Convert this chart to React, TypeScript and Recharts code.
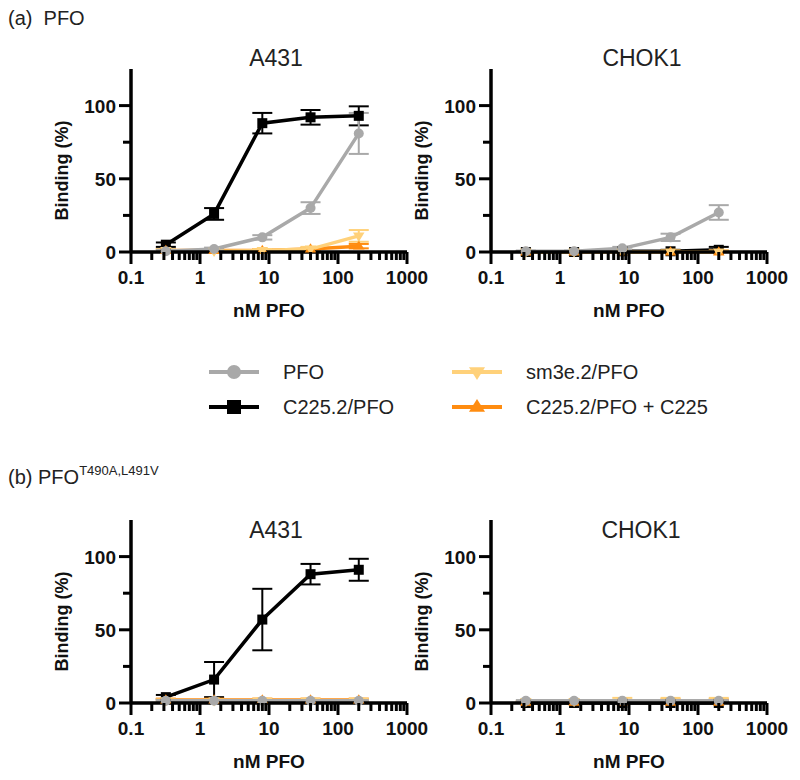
import React from 'react';
import { ComposedChart, Line, XAxis, YAxis, ErrorBar } from 'recharts';

// doses (nM PFO), 5-fold dilutions
const DOSES = [0.32, 1.6, 8, 40, 200];

const X_TICKS = [
  0.1, 0.2, 0.3, 0.4, 0.5, 0.6, 0.7, 0.8, 0.9,
  1, 2, 3, 4, 5, 6, 7, 8, 9,
  10, 20, 30, 40, 50, 60, 70, 80, 90,
  100, 200, 300, 400, 500, 600, 700, 800, 900,
  1000,
];
const X_MAJOR = [0.1, 1, 10, 100, 1000];
const Y_TICKS = [0, 25, 50, 75, 100];
const Y_MAJOR = [0, 50, 100];

// (a) PFO - A431
const A_A431_PFO = [0.5, 2, 10, 30, 81];
const A_A431_PFO_ERR = [1, 1, 1.5, 4, 14];
const A_A431_C225 = [5, 26, 88, 92, 93];
const A_A431_C225_ERR = [1.5, 4, 7, 5, 6.5];
const A_A431_SM3E = [1, 0.5, 1, 2, 11];
const A_A431_SM3E_ERR = [1, 1, 1, 1.5, 4];
const A_A431_BLOCK = [1, 1, 1, 2, 4];
const A_A431_BLOCK_ERR = [1, 1, 1, 1, 1.5];

// (a) PFO - CHOK1
const A_CHO_PFO = [0.5, 0.5, 2.5, 10, 27];
const A_CHO_PFO_ERR = [0.5, 0.5, 1, 2.5, 5];
const A_CHO_C225 = [0, 0, 0.5, 0.5, 1.5];
const A_CHO_C225_ERR = [0.5, 0.5, 1, 1, 2];
const A_CHO_SM3E = [0, 0, 0, 0, 0];
const A_CHO_SM3E_ERR = [0.5, 0.5, 1, 1, 1];
const A_CHO_BLOCK = [0, 0, 0, 0, 0];
const A_CHO_BLOCK_ERR = [0.5, 0.5, 1, 1, 1];

// (b) PFO T490A,L491V - A431
const B_A431_PFO = [1.5, 1.5, 1.5, 1.5, 1.5];
const B_A431_PFO_ERR = [0.5, 0.5, 0.5, 0.5, 0.5];
const B_A431_C225 = [4, 16, 57, 88, 91];
const B_A431_C225_ERR = [1.5, 12, 21, 7, 7.5];
const B_A431_SM3E = [1.5, 1.5, 1.5, 1.5, 1.5];
const B_A431_SM3E_ERR = [1, 1, 1.5, 1.5, 1.5];
const B_A431_BLOCK = [2, 2, 2, 2, 2];
const B_A431_BLOCK_ERR = [1, 1, 1, 1, 1];

// (b) PFO T490A,L491V - CHOK1
const B_CHO_PFO = [1.5, 1.5, 1.5, 1.5, 1.5];
const B_CHO_PFO_ERR = [0.5, 0.5, 0.5, 0.5, 0.5];
const B_CHO_C225 = [0, 0, 0, 0, 0];
const B_CHO_C225_ERR = [0.5, 0.5, 0.5, 1, 1];
const B_CHO_SM3E = [1, 1, 1, 1, 1];
const B_CHO_SM3E_ERR = [0.5, 0.5, 2.5, 2.5, 2.5];
const B_CHO_BLOCK = [0.5, 0.5, 0.5, 0.5, 0.5];
const B_CHO_BLOCK_ERR = [0.5, 0.5, 1, 2, 2];

const FONT = 'Arial, "Liberation Sans", Helvetica, sans-serif';
const GRAY = '#a9a9a9';
const BLACK = '#000000';
const YELLOW = '#ffd17a';
const ORANGE = '#ff8c10';

type Shape = 'circle' | 'square' | 'down' | 'up';

const SERIES: { key: string; name: string; color: string; shape: Shape }[] = [
  { key: 'c225', name: 'C225.2/PFO', color: BLACK, shape: 'square' },
  { key: 'block', name: 'C225.2/PFO + C225', color: ORANGE, shape: 'up' },
  { key: 'sm3e', name: 'sm3e.2/PFO', color: YELLOW, shape: 'down' },
  { key: 'pfo', name: 'PFO', color: GRAY, shape: 'circle' },
];

const Marker = ({ shape, cx, cy, color, s }: { shape: Shape; cx: number; cy: number; color: string; s: number }) => {
  if (shape === 'circle') return <circle cx={cx} cy={cy} r={s} fill={color} />;
  if (shape === 'square') return <rect x={cx - s} y={cy - s} width={2 * s} height={2 * s} fill={color} />;
  const h = s * 1.15;
  if (shape === 'down')
    return <path d={`M${cx - h},${cy - h * 0.6} L${cx + h},${cy - h * 0.6} L${cx},${cy + h} Z`} fill={color} />;
  return <path d={`M${cx - h},${cy + h * 0.6} L${cx + h},${cy + h * 0.6} L${cx},${cy - h} Z`} fill={color} />;
};

const makeDot = (shape: Shape, color: string) => (props: any) => {
  const { cx, cy, index } = props;
  if (cx == null || cy == null) return <g key={`e${index}`} />;
  return <Marker key={`d${index}`} shape={shape} cx={cx} cy={cy} color={color} s={5} />;
};

const XTick = (props: any) => {
  const { x, y, payload } = props;
  const major = X_MAJOR.includes(payload.value);
  return (
    <g>
      <line x1={x} x2={x} y1={y} y2={y + (major ? 12 : 8)} stroke="#000" strokeWidth={3} />
      {major && (
        <text x={x} y={y + 32} textAnchor="middle" fontFamily={FONT} fontSize={19} fontWeight={700} fill="#111">
          {String(payload.value)}
        </text>
      )}
    </g>
  );
};

const YTick = (props: any) => {
  const { x, y, payload } = props;
  const major = Y_MAJOR.includes(payload.value);
  return (
    <g>
      <line x1={x - (major ? 12 : 8)} x2={x} y1={y} y2={y} stroke="#000" strokeWidth={3} />
      {major && (
        <text x={x - 15} y={y + 7} textAnchor="end" fontFamily={FONT} fontSize={19} fontWeight={700} fill="#111">
          {String(payload.value)}
        </text>
      )}
    </g>
  );
};

const XTitle = (props: any) => {
  const vb = props.viewBox || {};
  return (
    <text x={vb.x + vb.width / 2} y={vb.y + 65} textAnchor="middle" fontFamily={FONT} fontSize={19} fontWeight={700} fill="#111">
      nM PFO
    </text>
  );
};

const YTitle = (props: any) => {
  const vb = props.viewBox || {};
  const cx = vb.x + vb.width - 69;
  const cy = vb.y + vb.height / 2 + 10;
  return (
    <text x={cx} y={cy} transform={`rotate(-90 ${cx} ${cy})`} textAnchor="middle" dominantBaseline="central"
      fontFamily={FONT} fontSize={18} fontWeight={700} fill="#111">
      Binding (%)
    </text>
  );
};

type Panel = {
  pfo: number[]; pfoErr: number[];
  c225: number[]; c225Err: number[];
  sm3e: number[]; sm3eErr: number[];
  block: number[]; blockErr: number[];
};

const buildRows = (p: Panel) =>
  DOSES.map((x, i) => {
    const row: any = { x };
    (['pfo', 'c225', 'sm3e', 'block'] as const).forEach((k) => {
      const v = (p as any)[k][i];
      const e = (p as any)[`${k}Err`][i];
      row[k] = v;
      row[`${k}Err`] = [Math.min(e, v), e];
    });
    return row;
  });

const PANELS = {
  aA431: buildRows({
    pfo: A_A431_PFO, pfoErr: A_A431_PFO_ERR, c225: A_A431_C225, c225Err: A_A431_C225_ERR,
    sm3e: A_A431_SM3E, sm3eErr: A_A431_SM3E_ERR, block: A_A431_BLOCK, blockErr: A_A431_BLOCK_ERR,
  }),
  aCho: buildRows({
    pfo: A_CHO_PFO, pfoErr: A_CHO_PFO_ERR, c225: A_CHO_C225, c225Err: A_CHO_C225_ERR,
    sm3e: A_CHO_SM3E, sm3eErr: A_CHO_SM3E_ERR, block: A_CHO_BLOCK, blockErr: A_CHO_BLOCK_ERR,
  }),
  bA431: buildRows({
    pfo: B_A431_PFO, pfoErr: B_A431_PFO_ERR, c225: B_A431_C225, c225Err: B_A431_C225_ERR,
    sm3e: B_A431_SM3E, sm3eErr: B_A431_SM3E_ERR, block: B_A431_BLOCK, blockErr: B_A431_BLOCK_ERR,
  }),
  bCho: buildRows({
    pfo: B_CHO_PFO, pfoErr: B_CHO_PFO_ERR, c225: B_CHO_C225, c225Err: B_CHO_C225_ERR,
    sm3e: B_CHO_SM3E, sm3eErr: B_CHO_SM3E_ERR, block: B_CHO_BLOCK, blockErr: B_CHO_BLOCK_ERR,
  }),
};

const DoseChart = ({ data, left, top }: { data: any[]; left: number; top: number }) => (
  <div style={{ position: 'absolute', left, top }}>
    <ComposedChart width={440} height={300} data={data} margin={{ top: 29, right: 33, bottom: 18, left: 61 }}>
      <XAxis
        dataKey="x" type="number" scale="log" domain={[0.1, 1000]} ticks={X_TICKS} interval={0}
        tick={<XTick />} tickSize={0} tickMargin={0} height={70}
        axisLine={{ stroke: '#000', strokeWidth: 3.5 }} label={<XTitle />}
      />
      <YAxis
        type="number" domain={[0, 125]} ticks={Y_TICKS} interval={0}
        tick={<YTick />} tickSize={0} tickMargin={0} width={70}
        axisLine={{ stroke: '#000', strokeWidth: 3.5 }} label={<YTitle />}
      />
      {SERIES.map((s) => (
        <Line
          key={s.key} dataKey={s.key} name={s.name} type="linear" stroke={s.color} strokeWidth={3.5}
          dot={makeDot(s.shape, s.color)} activeDot={false} isAnimationActive={false}
        >
          <ErrorBar dataKey={`${s.key}Err`} width={10} strokeWidth={2} stroke={s.color} direction="y" />
        </Line>
      ))}
    </ComposedChart>
  </div>
);

const LEGEND_ORDER = ['pfo', 'c225', 'sm3e', 'block'];
const LEGEND_POS: Record<string, { x: number; y: number }> = {
  pfo: { x: 209, y: 372 },
  c225: { x: 209, y: 407 },
  sm3e: { x: 452, y: 372 },
  block: { x: 452, y: 407 },
};

const Title = ({ text, x, y }: { text: string; x: number; y: number }) => (
  <div style={{ position: 'absolute', left: x, top: y, transform: 'translate(-50%, -50%)', fontSize: 23, color: '#222', lineHeight: 1, whiteSpace: 'nowrap' }}>
    {text}
  </div>
);

export default function App() {
  return (
    <div style={{ position: 'absolute', left: 0, top: 0, width: 800, height: 780, background: '#fff', fontFamily: FONT, overflow: 'hidden' }}>
      <div style={{ position: 'absolute', left: 8, top: 8, fontSize: 20, color: '#222', lineHeight: 1, whiteSpace: 'pre' }}>
        {'(a)  PFO'}
      </div>
      <div style={{ position: 'absolute', left: 8, top: 467, fontSize: 20, color: '#222', lineHeight: 1, whiteSpace: 'pre' }}>
        {'(b) PFO'}
        <span style={{ fontSize: 13, position: 'relative', top: -9 }}>T490A,L491V</span>
      </div>

      <DoseChart data={PANELS.aA431} left={0} top={40} />
      <DoseChart data={PANELS.aCho} left={360} top={40} />
      <DoseChart data={PANELS.bA431} left={0} top={491} />
      <DoseChart data={PANELS.bCho} left={360} top={491} />

      <Title text="A431" x={276} y={58} />
      <Title text="CHOK1" x={642} y={58} />
      <Title text="A431" x={276} y={530} />
      <Title text="CHOK1" x={641} y={530} />

      {LEGEND_ORDER.map((k) => {
        const s = SERIES.find((d) => d.key === k)!;
        const p = LEGEND_POS[k];
        return (
          <div key={k} style={{ position: 'absolute', left: p.x, top: p.y - 12, height: 24, display: 'flex', alignItems: 'center' }}>
            <svg width={50} height={24}>
              <line x1={0} x2={50} y1={12} y2={12} stroke={s.color} strokeWidth={4} strokeLinecap="round" />
              <Marker shape={s.shape} cx={25} cy={12} color={s.color} s={7} />
            </svg>
            <span style={{ marginLeft: 24, fontSize: 20, color: '#222', whiteSpace: 'nowrap' }}>{s.name}</span>
          </div>
        );
      })}
    </div>
  );
}
